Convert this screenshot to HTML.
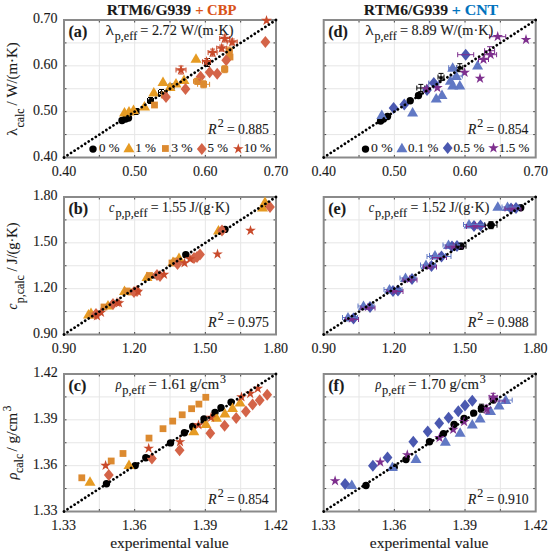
<!DOCTYPE html>
<html><head><meta charset="utf-8"><style>
html,body{margin:0;padding:0;background:#fff;}
svg{display:block;}
text{font-family:"Liberation Serif",serif;fill:#1a1a1a;font-kerning:none;stroke:#1a1a1a;stroke-width:0.12px;}
</style></head><body>
<svg width="550" height="555" viewBox="0 0 550 555">
<rect width="550" height="555" fill="#fff"/>
<line x1="99.33" y1="20.0" x2="99.33" y2="157.5" stroke="#e6e6e6" stroke-width="1"/>
<line x1="64.0" y1="42.92" x2="276.0" y2="42.92" stroke="#e6e6e6" stroke-width="1"/>
<line x1="134.67" y1="20.0" x2="134.67" y2="157.5" stroke="#e6e6e6" stroke-width="1"/>
<line x1="64.0" y1="65.83" x2="276.0" y2="65.83" stroke="#e6e6e6" stroke-width="1"/>
<line x1="170.00" y1="20.0" x2="170.00" y2="157.5" stroke="#e6e6e6" stroke-width="1"/>
<line x1="64.0" y1="88.75" x2="276.0" y2="88.75" stroke="#e6e6e6" stroke-width="1"/>
<line x1="205.33" y1="20.0" x2="205.33" y2="157.5" stroke="#e6e6e6" stroke-width="1"/>
<line x1="64.0" y1="111.67" x2="276.0" y2="111.67" stroke="#e6e6e6" stroke-width="1"/>
<line x1="240.67" y1="20.0" x2="240.67" y2="157.5" stroke="#e6e6e6" stroke-width="1"/>
<line x1="64.0" y1="134.58" x2="276.0" y2="134.58" stroke="#e6e6e6" stroke-width="1"/>
<path d="M99.33,157.5v-2.5M99.33,20.0v2.5M64.0,42.92h2.5M276.0,42.92h-2.5" stroke="#444" stroke-width="1"/>
<path d="M134.67,157.5v-2.5M134.67,20.0v2.5M64.0,65.83h2.5M276.0,65.83h-2.5" stroke="#444" stroke-width="1"/>
<path d="M170.00,157.5v-2.5M170.00,20.0v2.5M64.0,88.75h2.5M276.0,88.75h-2.5" stroke="#444" stroke-width="1"/>
<path d="M205.33,157.5v-2.5M205.33,20.0v2.5M64.0,111.67h2.5M276.0,111.67h-2.5" stroke="#444" stroke-width="1"/>
<path d="M240.67,157.5v-2.5M240.67,20.0v2.5M64.0,134.58h2.5M276.0,134.58h-2.5" stroke="#444" stroke-width="1"/>
<rect x="64.0" y="20.0" width="212.00" height="137.50" fill="none" stroke="#8a8a8a" stroke-width="2"/>
<line x1="99.33" y1="197.0" x2="99.33" y2="334.5" stroke="#e6e6e6" stroke-width="1"/>
<line x1="64.0" y1="219.92" x2="276.0" y2="219.92" stroke="#e6e6e6" stroke-width="1"/>
<line x1="134.67" y1="197.0" x2="134.67" y2="334.5" stroke="#e6e6e6" stroke-width="1"/>
<line x1="64.0" y1="242.83" x2="276.0" y2="242.83" stroke="#e6e6e6" stroke-width="1"/>
<line x1="170.00" y1="197.0" x2="170.00" y2="334.5" stroke="#e6e6e6" stroke-width="1"/>
<line x1="64.0" y1="265.75" x2="276.0" y2="265.75" stroke="#e6e6e6" stroke-width="1"/>
<line x1="205.33" y1="197.0" x2="205.33" y2="334.5" stroke="#e6e6e6" stroke-width="1"/>
<line x1="64.0" y1="288.67" x2="276.0" y2="288.67" stroke="#e6e6e6" stroke-width="1"/>
<line x1="240.67" y1="197.0" x2="240.67" y2="334.5" stroke="#e6e6e6" stroke-width="1"/>
<line x1="64.0" y1="311.58" x2="276.0" y2="311.58" stroke="#e6e6e6" stroke-width="1"/>
<path d="M99.33,334.5v-2.5M99.33,197.0v2.5M64.0,219.92h2.5M276.0,219.92h-2.5" stroke="#444" stroke-width="1"/>
<path d="M134.67,334.5v-2.5M134.67,197.0v2.5M64.0,242.83h2.5M276.0,242.83h-2.5" stroke="#444" stroke-width="1"/>
<path d="M170.00,334.5v-2.5M170.00,197.0v2.5M64.0,265.75h2.5M276.0,265.75h-2.5" stroke="#444" stroke-width="1"/>
<path d="M205.33,334.5v-2.5M205.33,197.0v2.5M64.0,288.67h2.5M276.0,288.67h-2.5" stroke="#444" stroke-width="1"/>
<path d="M240.67,334.5v-2.5M240.67,197.0v2.5M64.0,311.58h2.5M276.0,311.58h-2.5" stroke="#444" stroke-width="1"/>
<rect x="64.0" y="197.0" width="212.00" height="137.50" fill="none" stroke="#8a8a8a" stroke-width="2"/>
<line x1="99.33" y1="374.0" x2="99.33" y2="511.5" stroke="#e6e6e6" stroke-width="1"/>
<line x1="64.0" y1="396.92" x2="276.0" y2="396.92" stroke="#e6e6e6" stroke-width="1"/>
<line x1="134.67" y1="374.0" x2="134.67" y2="511.5" stroke="#e6e6e6" stroke-width="1"/>
<line x1="64.0" y1="419.83" x2="276.0" y2="419.83" stroke="#e6e6e6" stroke-width="1"/>
<line x1="170.00" y1="374.0" x2="170.00" y2="511.5" stroke="#e6e6e6" stroke-width="1"/>
<line x1="64.0" y1="442.75" x2="276.0" y2="442.75" stroke="#e6e6e6" stroke-width="1"/>
<line x1="205.33" y1="374.0" x2="205.33" y2="511.5" stroke="#e6e6e6" stroke-width="1"/>
<line x1="64.0" y1="465.67" x2="276.0" y2="465.67" stroke="#e6e6e6" stroke-width="1"/>
<line x1="240.67" y1="374.0" x2="240.67" y2="511.5" stroke="#e6e6e6" stroke-width="1"/>
<line x1="64.0" y1="488.58" x2="276.0" y2="488.58" stroke="#e6e6e6" stroke-width="1"/>
<path d="M99.33,511.5v-2.5M99.33,374.0v2.5M64.0,396.92h2.5M276.0,396.92h-2.5" stroke="#444" stroke-width="1"/>
<path d="M134.67,511.5v-2.5M134.67,374.0v2.5M64.0,419.83h2.5M276.0,419.83h-2.5" stroke="#444" stroke-width="1"/>
<path d="M170.00,511.5v-2.5M170.00,374.0v2.5M64.0,442.75h2.5M276.0,442.75h-2.5" stroke="#444" stroke-width="1"/>
<path d="M205.33,511.5v-2.5M205.33,374.0v2.5M64.0,465.67h2.5M276.0,465.67h-2.5" stroke="#444" stroke-width="1"/>
<path d="M240.67,511.5v-2.5M240.67,374.0v2.5M64.0,488.58h2.5M276.0,488.58h-2.5" stroke="#444" stroke-width="1"/>
<rect x="64.0" y="374.0" width="212.00" height="137.50" fill="none" stroke="#8a8a8a" stroke-width="2"/>
<line x1="359.03" y1="20.0" x2="359.03" y2="157.5" stroke="#e6e6e6" stroke-width="1"/>
<line x1="323.7" y1="42.92" x2="535.7" y2="42.92" stroke="#e6e6e6" stroke-width="1"/>
<line x1="394.37" y1="20.0" x2="394.37" y2="157.5" stroke="#e6e6e6" stroke-width="1"/>
<line x1="323.7" y1="65.83" x2="535.7" y2="65.83" stroke="#e6e6e6" stroke-width="1"/>
<line x1="429.70" y1="20.0" x2="429.70" y2="157.5" stroke="#e6e6e6" stroke-width="1"/>
<line x1="323.7" y1="88.75" x2="535.7" y2="88.75" stroke="#e6e6e6" stroke-width="1"/>
<line x1="465.03" y1="20.0" x2="465.03" y2="157.5" stroke="#e6e6e6" stroke-width="1"/>
<line x1="323.7" y1="111.67" x2="535.7" y2="111.67" stroke="#e6e6e6" stroke-width="1"/>
<line x1="500.37" y1="20.0" x2="500.37" y2="157.5" stroke="#e6e6e6" stroke-width="1"/>
<line x1="323.7" y1="134.58" x2="535.7" y2="134.58" stroke="#e6e6e6" stroke-width="1"/>
<path d="M359.03,157.5v-2.5M359.03,20.0v2.5M323.7,42.92h2.5M535.7,42.92h-2.5" stroke="#444" stroke-width="1"/>
<path d="M394.37,157.5v-2.5M394.37,20.0v2.5M323.7,65.83h2.5M535.7,65.83h-2.5" stroke="#444" stroke-width="1"/>
<path d="M429.70,157.5v-2.5M429.70,20.0v2.5M323.7,88.75h2.5M535.7,88.75h-2.5" stroke="#444" stroke-width="1"/>
<path d="M465.03,157.5v-2.5M465.03,20.0v2.5M323.7,111.67h2.5M535.7,111.67h-2.5" stroke="#444" stroke-width="1"/>
<path d="M500.37,157.5v-2.5M500.37,20.0v2.5M323.7,134.58h2.5M535.7,134.58h-2.5" stroke="#444" stroke-width="1"/>
<rect x="323.7" y="20.0" width="212.00" height="137.50" fill="none" stroke="#8a8a8a" stroke-width="2"/>
<line x1="359.03" y1="197.0" x2="359.03" y2="334.5" stroke="#e6e6e6" stroke-width="1"/>
<line x1="323.7" y1="219.92" x2="535.7" y2="219.92" stroke="#e6e6e6" stroke-width="1"/>
<line x1="394.37" y1="197.0" x2="394.37" y2="334.5" stroke="#e6e6e6" stroke-width="1"/>
<line x1="323.7" y1="242.83" x2="535.7" y2="242.83" stroke="#e6e6e6" stroke-width="1"/>
<line x1="429.70" y1="197.0" x2="429.70" y2="334.5" stroke="#e6e6e6" stroke-width="1"/>
<line x1="323.7" y1="265.75" x2="535.7" y2="265.75" stroke="#e6e6e6" stroke-width="1"/>
<line x1="465.03" y1="197.0" x2="465.03" y2="334.5" stroke="#e6e6e6" stroke-width="1"/>
<line x1="323.7" y1="288.67" x2="535.7" y2="288.67" stroke="#e6e6e6" stroke-width="1"/>
<line x1="500.37" y1="197.0" x2="500.37" y2="334.5" stroke="#e6e6e6" stroke-width="1"/>
<line x1="323.7" y1="311.58" x2="535.7" y2="311.58" stroke="#e6e6e6" stroke-width="1"/>
<path d="M359.03,334.5v-2.5M359.03,197.0v2.5M323.7,219.92h2.5M535.7,219.92h-2.5" stroke="#444" stroke-width="1"/>
<path d="M394.37,334.5v-2.5M394.37,197.0v2.5M323.7,242.83h2.5M535.7,242.83h-2.5" stroke="#444" stroke-width="1"/>
<path d="M429.70,334.5v-2.5M429.70,197.0v2.5M323.7,265.75h2.5M535.7,265.75h-2.5" stroke="#444" stroke-width="1"/>
<path d="M465.03,334.5v-2.5M465.03,197.0v2.5M323.7,288.67h2.5M535.7,288.67h-2.5" stroke="#444" stroke-width="1"/>
<path d="M500.37,334.5v-2.5M500.37,197.0v2.5M323.7,311.58h2.5M535.7,311.58h-2.5" stroke="#444" stroke-width="1"/>
<rect x="323.7" y="197.0" width="212.00" height="137.50" fill="none" stroke="#8a8a8a" stroke-width="2"/>
<line x1="359.03" y1="374.0" x2="359.03" y2="511.5" stroke="#e6e6e6" stroke-width="1"/>
<line x1="323.7" y1="396.92" x2="535.7" y2="396.92" stroke="#e6e6e6" stroke-width="1"/>
<line x1="394.37" y1="374.0" x2="394.37" y2="511.5" stroke="#e6e6e6" stroke-width="1"/>
<line x1="323.7" y1="419.83" x2="535.7" y2="419.83" stroke="#e6e6e6" stroke-width="1"/>
<line x1="429.70" y1="374.0" x2="429.70" y2="511.5" stroke="#e6e6e6" stroke-width="1"/>
<line x1="323.7" y1="442.75" x2="535.7" y2="442.75" stroke="#e6e6e6" stroke-width="1"/>
<line x1="465.03" y1="374.0" x2="465.03" y2="511.5" stroke="#e6e6e6" stroke-width="1"/>
<line x1="323.7" y1="465.67" x2="535.7" y2="465.67" stroke="#e6e6e6" stroke-width="1"/>
<line x1="500.37" y1="374.0" x2="500.37" y2="511.5" stroke="#e6e6e6" stroke-width="1"/>
<line x1="323.7" y1="488.58" x2="535.7" y2="488.58" stroke="#e6e6e6" stroke-width="1"/>
<path d="M359.03,511.5v-2.5M359.03,374.0v2.5M323.7,396.92h2.5M535.7,396.92h-2.5" stroke="#444" stroke-width="1"/>
<path d="M394.37,511.5v-2.5M394.37,374.0v2.5M323.7,419.83h2.5M535.7,419.83h-2.5" stroke="#444" stroke-width="1"/>
<path d="M429.70,511.5v-2.5M429.70,374.0v2.5M323.7,442.75h2.5M535.7,442.75h-2.5" stroke="#444" stroke-width="1"/>
<path d="M465.03,511.5v-2.5M465.03,374.0v2.5M323.7,465.67h2.5M535.7,465.67h-2.5" stroke="#444" stroke-width="1"/>
<path d="M500.37,511.5v-2.5M500.37,374.0v2.5M323.7,488.58h2.5M535.7,488.58h-2.5" stroke="#444" stroke-width="1"/>
<rect x="323.7" y="374.0" width="212.00" height="137.50" fill="none" stroke="#8a8a8a" stroke-width="2"/>
<path d="M147.50,100.5H153.50M147.50,98.0v5M153.50,98.0v5" stroke="#000000" stroke-width="1" fill="none"/><path d="M150.5,97.50V103.50M148.0,97.50h5M148.0,103.50h5" stroke="#000000" stroke-width="1" fill="none"/>
<path d="M158.50,92.5H164.50M158.50,90.0v5M164.50,90.0v5" stroke="#000000" stroke-width="1" fill="none"/><path d="M161.5,89.50V95.50M159.0,89.50h5M159.0,95.50h5" stroke="#000000" stroke-width="1" fill="none"/>
<path d="M168.00,87H174.00M168.00,84.5v5M174.00,84.5v5" stroke="#000000" stroke-width="1" fill="none"/><path d="M171,84.00V90.00M168.5,84.00h5M168.5,90.00h5" stroke="#000000" stroke-width="1" fill="none"/>
<path d="M204.50,62.5H210.50M204.50,60.0v5M210.50,60.0v5" stroke="#000000" stroke-width="1" fill="none"/><path d="M207.5,58.50V66.50M205.0,58.50h5M205.0,66.50h5" stroke="#000000" stroke-width="1" fill="none"/>
<path d="M133.00,111.5H139.00M133.00,109.0v5M139.00,109.0v5" stroke="#000000" stroke-width="1" fill="none"/><path d="M136,108.50V114.50M133.5,108.50h5M133.5,114.50h5" stroke="#000000" stroke-width="1" fill="none"/>
<path d="M416.80,88H424.80M416.80,85.5v5M424.80,85.5v5" stroke="#000000" stroke-width="1" fill="none"/><path d="M420.8,84.40V91.60M418.3,84.40h5M418.3,91.60h5" stroke="#000000" stroke-width="1" fill="none"/>
<path d="M438.00,77H444.00M438.00,74.5v5M444.00,74.5v5" stroke="#000000" stroke-width="1" fill="none"/><path d="M441,73.40V80.60M438.5,73.40h5M438.5,80.60h5" stroke="#000000" stroke-width="1" fill="none"/>
<path d="M456.80,67.7H462.80M456.80,65.2v5M462.80,65.2v5" stroke="#000000" stroke-width="1" fill="none"/><path d="M459.8,63.70V71.70M457.3,63.70h5M457.3,71.70h5" stroke="#000000" stroke-width="1" fill="none"/>
<circle cx="122" cy="120.5" r="3.70" fill="#000000"/>
<circle cx="125.5" cy="119" r="3.70" fill="#000000"/>
<circle cx="128.5" cy="118" r="3.70" fill="#000000"/>
<circle cx="136" cy="111.5" r="2.96" fill="#000000"/>
<circle cx="151" cy="100.5" r="2.78" fill="#000000"/>
<circle cx="161.5" cy="92.5" r="1.85" fill="#000000"/>
<circle cx="171" cy="87" r="1.85" fill="#000000"/>
<circle cx="207.5" cy="62.5" r="2.22" fill="#000000"/>
<polygon points="124.50,106.99 130.00,116.49 119.00,116.49" fill="#E69B23"/>
<polygon points="129.00,105.99 134.50,115.49 123.50,115.49" fill="#E69B23"/>
<polygon points="133.50,104.49 139.00,113.99 128.00,113.99" fill="#E69B23"/>
<polygon points="144.50,100.99 150.00,110.49 139.00,110.49" fill="#E69B23"/>
<polygon points="153.80,86.99 159.30,96.49 148.30,96.49" fill="#E69B23"/>
<polygon points="163.00,76.49 168.50,85.99 157.50,85.99" fill="#E69B23"/>
<polygon points="170.00,81.49 175.50,90.99 164.50,90.99" fill="#E69B23"/>
<polygon points="176.00,77.99 181.50,87.49 170.50,87.49" fill="#E69B23"/>
<polygon points="184.00,74.49 189.50,83.99 178.50,83.99" fill="#E69B23"/>
<polygon points="196.00,53.19 201.50,62.69 190.50,62.69" fill="#E69B23"/>
<rect x="151.10" y="101.60" width="6.80" height="6.80" fill="#DC8A30"/>
<rect x="160.90" y="91.60" width="6.80" height="6.80" fill="#DC8A30"/>
<rect x="194.10" y="77.90" width="6.80" height="6.80" fill="#DC8A30"/>
<rect x="200.20" y="80.90" width="6.80" height="6.80" fill="#DC8A30"/>
<rect x="221.30" y="65.80" width="6.80" height="6.80" fill="#DC8A30"/>
<rect x="225.80" y="47.70" width="6.80" height="6.80" fill="#DC8A30"/>
<rect x="226.60" y="53.60" width="6.80" height="6.80" fill="#DC8A30"/>
<polygon points="166.00,91.00 170.90,97.00 166.00,103.00 161.10,97.00" fill="#D46448"/>
<polygon points="185.50,82.90 190.40,88.90 185.50,94.90 180.60,88.90" fill="#D46448"/>
<polygon points="200.60,70.80 205.50,76.80 200.60,82.80 195.70,76.80" fill="#D46448"/>
<polygon points="209.60,66.30 214.50,72.30 209.60,78.30 204.70,72.30" fill="#D46448"/>
<polygon points="217.20,67.80 222.10,73.80 217.20,79.80 212.30,73.80" fill="#D46448"/>
<polygon points="226.20,54.20 231.10,60.20 226.20,66.20 221.30,60.20" fill="#D46448"/>
<polygon points="265.40,36.10 270.30,42.10 265.40,48.10 260.50,42.10" fill="#D46448"/>
<polygon points="181.00,64.40 182.26,68.27 186.33,68.27 183.03,70.66 184.29,74.53 181.00,72.14 177.71,74.53 178.97,70.66 175.67,68.27 179.74,68.27" fill="#C94A2B"/>
<polygon points="224.70,32.90 225.96,36.77 230.03,36.77 226.73,39.16 227.99,43.03 224.70,40.64 221.41,43.03 222.67,39.16 219.37,36.77 223.44,36.77" fill="#C94A2B"/>
<polygon points="232.20,36.40 233.46,40.27 237.53,40.27 234.23,42.66 235.49,46.53 232.20,44.14 228.91,46.53 230.17,42.66 226.87,40.27 230.94,40.27" fill="#C94A2B"/>
<polygon points="221.70,42.50 222.96,46.37 227.03,46.37 223.73,48.76 224.99,52.63 221.70,50.24 218.41,52.63 219.67,48.76 216.37,46.37 220.44,46.37" fill="#C94A2B"/>
<polygon points="212.60,47.00 213.86,50.87 217.93,50.87 214.63,53.26 215.89,57.13 212.60,54.74 209.31,57.13 210.57,53.26 207.27,50.87 211.34,50.87" fill="#C94A2B"/>
<polygon points="206.60,56.10 207.86,59.97 211.93,59.97 208.63,62.36 209.89,66.23 206.60,63.84 203.31,66.23 204.57,62.36 201.27,59.97 205.34,59.97" fill="#C94A2B"/>
<polygon points="266.50,14.90 267.76,18.77 271.83,18.77 268.53,21.16 269.79,25.03 266.50,22.64 263.21,25.03 264.47,21.16 261.17,18.77 265.24,18.77" fill="#C94A2B"/>
<circle cx="94" cy="315" r="2.59" fill="#000000"/>
<circle cx="130" cy="292.5" r="2.59" fill="#000000"/>
<circle cx="154" cy="276" r="2.59" fill="#000000"/>
<circle cx="185.8" cy="254.6" r="3.70" fill="#000000"/>
<circle cx="225" cy="229.4" r="3.70" fill="#000000"/>
<circle cx="267" cy="205" r="2.59" fill="#000000"/>
<polygon points="88.50,308.99 94.00,318.49 83.00,318.49" fill="#E69B23"/>
<polygon points="91.00,307.49 96.50,316.99 85.50,316.99" fill="#E69B23"/>
<polygon points="147.00,271.49 152.50,280.99 141.50,280.99" fill="#E69B23"/>
<polygon points="108.00,299.99 113.50,309.49 102.50,309.49" fill="#E69B23"/>
<polygon points="124.50,285.49 130.00,294.99 119.00,294.99" fill="#E69B23"/>
<polygon points="173.00,256.49 178.50,265.99 167.50,265.99" fill="#E69B23"/>
<polygon points="179.00,252.49 184.50,261.99 173.50,261.99" fill="#E69B23"/>
<polygon points="218.50,224.99 224.00,234.49 213.00,234.49" fill="#E69B23"/>
<polygon points="262.50,201.99 268.00,211.49 257.00,211.49" fill="#E69B23"/>
<polygon points="265.00,196.49 270.50,205.99 259.50,205.99" fill="#E69B23"/>
<rect x="146.10" y="272.10" width="6.80" height="6.80" fill="#DC8A30"/>
<rect x="172.60" y="257.60" width="6.80" height="6.80" fill="#DC8A30"/>
<rect x="127.60" y="288.60" width="6.80" height="6.80" fill="#DC8A30"/>
<rect x="88.60" y="311.60" width="6.80" height="6.80" fill="#DC8A30"/>
<rect x="100.60" y="303.60" width="6.80" height="6.80" fill="#DC8A30"/>
<rect x="123.60" y="287.60" width="6.80" height="6.80" fill="#DC8A30"/>
<rect x="168.60" y="259.60" width="6.80" height="6.80" fill="#DC8A30"/>
<polygon points="96.00,308.00 100.90,314.00 96.00,320.00 91.10,314.00" fill="#D46448"/>
<polygon points="113.00,298.00 117.90,304.00 113.00,310.00 108.10,304.00" fill="#D46448"/>
<polygon points="134.00,286.00 138.90,292.00 134.00,298.00 129.10,292.00" fill="#D46448"/>
<polygon points="137.00,285.00 141.90,291.00 137.00,297.00 132.10,291.00" fill="#D46448"/>
<polygon points="160.00,270.00 164.90,276.00 160.00,282.00 155.10,276.00" fill="#D46448"/>
<polygon points="197.00,251.00 201.90,257.00 197.00,263.00 192.10,257.00" fill="#D46448"/>
<polygon points="157.00,269.00 161.90,275.00 157.00,281.00 152.10,275.00" fill="#D46448"/>
<polygon points="177.50,258.00 182.40,264.00 177.50,270.00 172.60,264.00" fill="#D46448"/>
<polygon points="194.00,252.00 198.90,258.00 194.00,264.00 189.10,258.00" fill="#D46448"/>
<polygon points="200.00,248.50 204.90,254.50 200.00,260.50 195.10,254.50" fill="#D46448"/>
<polygon points="222.00,224.50 226.90,230.50 222.00,236.50 217.10,230.50" fill="#D46448"/>
<polygon points="270.00,201.00 274.90,207.00 270.00,213.00 265.10,207.00" fill="#D46448"/>
<polygon points="101.00,306.90 102.26,310.77 106.33,310.77 103.03,313.16 104.29,317.03 101.00,314.64 97.71,317.03 98.97,313.16 95.67,310.77 99.74,310.77" fill="#C94A2B"/>
<polygon points="97.00,310.40 98.26,314.27 102.33,314.27 99.03,316.66 100.29,320.53 97.00,318.14 93.71,320.53 94.97,316.66 91.67,314.27 95.74,314.27" fill="#C94A2B"/>
<polygon points="119.00,297.40 120.26,301.27 124.33,301.27 121.03,303.66 122.29,307.53 119.00,305.14 115.71,307.53 116.97,303.66 113.67,301.27 117.74,301.27" fill="#C94A2B"/>
<polygon points="190.00,253.40 191.26,257.27 195.33,257.27 192.03,259.66 193.29,263.53 190.00,261.14 186.71,263.53 187.97,259.66 184.67,257.27 188.74,257.27" fill="#C94A2B"/>
<polygon points="117.00,296.90 118.26,300.77 122.33,300.77 119.03,303.16 120.29,307.03 117.00,304.64 113.71,307.03 114.97,303.16 111.67,300.77 115.74,300.77" fill="#C94A2B"/>
<polygon points="138.00,285.90 139.26,289.77 143.33,289.77 140.03,292.16 141.29,296.03 138.00,293.64 134.71,296.03 135.97,292.16 132.67,289.77 136.74,289.77" fill="#C94A2B"/>
<polygon points="164.00,268.90 165.26,272.77 169.33,272.77 166.03,275.16 167.29,279.03 164.00,276.64 160.71,279.03 161.97,275.16 158.67,272.77 162.74,272.77" fill="#C94A2B"/>
<polygon points="184.50,257.40 185.76,261.27 189.83,261.27 186.53,263.66 187.79,267.53 184.50,265.14 181.21,267.53 182.47,263.66 179.17,261.27 183.24,261.27" fill="#C94A2B"/>
<polygon points="250.50,225.00 251.76,228.87 255.83,228.87 252.53,231.26 253.79,235.13 250.50,232.74 247.21,235.13 248.47,231.26 245.17,228.87 249.24,228.87" fill="#C94A2B"/>
<polygon points="217.50,248.60 218.76,252.47 222.83,252.47 219.53,254.86 220.79,258.73 217.50,256.34 214.21,258.73 215.47,254.86 212.17,252.47 216.24,252.47" fill="#C94A2B"/>
<circle cx="106.5" cy="483.7" r="3.70" fill="#000000"/>
<circle cx="135.2" cy="465.6" r="3.70" fill="#000000"/>
<circle cx="145.8" cy="457.8" r="3.70" fill="#000000"/>
<circle cx="170.5" cy="442.9" r="3.70" fill="#000000"/>
<circle cx="184.4" cy="432.7" r="3.70" fill="#000000"/>
<circle cx="192.7" cy="426.5" r="3.70" fill="#000000"/>
<circle cx="204" cy="419" r="3.70" fill="#000000"/>
<circle cx="215" cy="412.5" r="3.70" fill="#000000"/>
<circle cx="221" cy="407.7" r="3.70" fill="#000000"/>
<circle cx="231.1" cy="402.2" r="3.70" fill="#000000"/>
<polygon points="90.00,476.29 95.50,485.79 84.50,485.79" fill="#E69B23"/>
<polygon points="129.00,459.49 134.50,468.99 123.50,468.99" fill="#E69B23"/>
<polygon points="193.80,425.79 199.30,435.29 188.30,435.29" fill="#E69B23"/>
<polygon points="206.00,418.49 211.50,427.99 200.50,427.99" fill="#E69B23"/>
<polygon points="216.50,412.19 222.00,421.69 211.00,421.69" fill="#E69B23"/>
<polygon points="224.90,408.09 230.40,417.59 219.40,417.59" fill="#E69B23"/>
<polygon points="232.50,402.59 238.00,412.09 227.00,412.09" fill="#E69B23"/>
<polygon points="240.10,397.09 245.60,406.59 234.60,406.59" fill="#E69B23"/>
<rect x="78.40" y="474.40" width="6.80" height="6.80" fill="#DC8A30"/>
<rect x="107.80" y="457.60" width="6.80" height="6.80" fill="#DC8A30"/>
<rect x="119.60" y="450.10" width="6.80" height="6.80" fill="#DC8A30"/>
<rect x="145.60" y="434.70" width="6.80" height="6.80" fill="#DC8A30"/>
<rect x="159.60" y="425.30" width="6.80" height="6.80" fill="#DC8A30"/>
<rect x="169.30" y="417.70" width="6.80" height="6.80" fill="#DC8A30"/>
<rect x="178.80" y="411.40" width="6.80" height="6.80" fill="#DC8A30"/>
<rect x="188.20" y="405.30" width="6.80" height="6.80" fill="#DC8A30"/>
<rect x="195.50" y="400.70" width="6.80" height="6.80" fill="#DC8A30"/>
<rect x="202.40" y="393.90" width="6.80" height="6.80" fill="#DC8A30"/>
<polygon points="108.80,468.90 113.70,474.90 108.80,480.90 103.90,474.90" fill="#D46448"/>
<polygon points="151.90,452.50 156.80,458.50 151.90,464.50 147.00,458.50" fill="#D46448"/>
<polygon points="179.60,444.20 184.50,450.20 179.60,456.20 174.70,450.20" fill="#D46448"/>
<polygon points="210.30,427.20 215.20,433.20 210.30,439.20 205.40,433.20" fill="#D46448"/>
<polygon points="224.60,419.70 229.50,425.70 224.60,431.70 219.70,425.70" fill="#D46448"/>
<polygon points="236.20,412.10 241.10,418.10 236.20,424.10 231.30,418.10" fill="#D46448"/>
<polygon points="245.90,405.40 250.80,411.40 245.90,417.40 241.00,411.40" fill="#D46448"/>
<polygon points="252.60,398.50 257.50,404.50 252.60,410.50 247.70,404.50" fill="#D46448"/>
<polygon points="259.70,394.30 264.60,400.30 259.70,406.30 254.80,400.30" fill="#D46448"/>
<polygon points="267.20,388.80 272.10,394.80 267.20,400.80 262.30,394.80" fill="#D46448"/>
<polygon points="105.60,459.90 106.86,463.77 110.93,463.77 107.63,466.16 108.89,470.03 105.60,467.64 102.31,470.03 103.57,466.16 100.27,463.77 104.34,463.77" fill="#C94A2B"/>
<polygon points="148.70,442.80 149.96,446.67 154.03,446.67 150.73,449.06 151.99,452.93 148.70,450.54 145.41,452.93 146.67,449.06 143.37,446.67 147.44,446.67" fill="#C94A2B"/>
<polygon points="180.00,436.30 181.26,440.17 185.33,440.17 182.03,442.56 183.29,446.43 180.00,444.04 176.71,446.43 177.97,442.56 174.67,440.17 178.74,440.17" fill="#C94A2B"/>
<polygon points="198.50,419.40 199.76,423.27 203.83,423.27 200.53,425.66 201.79,429.53 198.50,427.14 195.21,429.53 196.47,425.66 193.17,423.27 197.24,423.27" fill="#C94A2B"/>
<polygon points="211.00,411.90 212.26,415.77 216.33,415.77 213.03,418.16 214.29,422.03 211.00,419.64 207.71,422.03 208.97,418.16 205.67,415.77 209.74,415.77" fill="#C94A2B"/>
<polygon points="241.50,391.40 242.76,395.27 246.83,395.27 243.53,397.66 244.79,401.53 241.50,399.14 238.21,401.53 239.47,397.66 236.17,395.27 240.24,395.27" fill="#C94A2B"/>
<polygon points="250.20,388.00 251.46,391.87 255.53,391.87 252.23,394.26 253.49,398.13 250.20,395.74 246.91,398.13 248.17,394.26 244.87,391.87 248.94,391.87" fill="#C94A2B"/>
<polygon points="257.80,382.90 259.06,386.77 263.13,386.77 259.83,389.16 261.09,393.03 257.80,390.64 254.51,393.03 255.77,389.16 252.47,386.77 256.54,386.77" fill="#C94A2B"/>
<circle cx="380.6" cy="121" r="3.70" fill="#000000"/>
<circle cx="383.5" cy="119" r="3.70" fill="#000000"/>
<circle cx="387.5" cy="116.5" r="3.70" fill="#000000"/>
<circle cx="410.2" cy="100.8" r="3.70" fill="#000000"/>
<circle cx="418.5" cy="95.5" r="3.70" fill="#000000"/>
<circle cx="459.8" cy="67.7" r="2.04" fill="#000000"/>
<circle cx="441" cy="78" r="1.85" fill="#000000"/>
<polygon points="381.80,109.49 387.30,118.99 376.30,118.99" fill="#6178C4"/>
<polygon points="412.60,107.09 418.10,116.59 407.10,116.59" fill="#6178C4"/>
<polygon points="436.20,92.99 441.70,102.49 430.70,102.49" fill="#6178C4"/>
<polygon points="442.00,89.49 447.50,98.99 436.50,98.99" fill="#6178C4"/>
<polygon points="450.40,75.19 455.90,84.69 444.90,84.69" fill="#6178C4"/>
<polygon points="452.70,79.99 458.20,89.49 447.20,89.49" fill="#6178C4"/>
<polygon points="456.30,70.49 461.80,79.99 450.80,79.99" fill="#6178C4"/>
<polygon points="459.80,79.99 465.30,89.49 454.30,89.49" fill="#6178C4"/>
<polygon points="452.70,62.19 458.20,71.69 447.20,71.69" fill="#6178C4"/>
<polygon points="477.60,59.89 483.10,69.39 472.10,69.39" fill="#6178C4"/>
<polygon points="393.60,102.00 398.50,108.00 393.60,114.00 388.70,108.00" fill="#4A58B0"/>
<polygon points="404.30,98.40 409.20,104.40 404.30,110.40 399.40,104.40" fill="#4A58B0"/>
<polygon points="433.80,77.10 438.70,83.10 433.80,89.10 428.90,83.10" fill="#4A58B0"/>
<polygon points="427.00,84.00 431.90,90.00 427.00,96.00 422.10,90.00" fill="#4A58B0"/>
<polygon points="465.70,48.70 470.60,54.70 465.70,60.70 460.80,54.70" fill="#4A58B0"/>
<polygon points="426.70,83.40 427.96,87.27 432.03,87.27 428.73,89.66 429.99,93.53 426.70,91.14 423.41,93.53 424.67,89.66 421.37,87.27 425.44,87.27" fill="#7E2F8E"/>
<polygon points="437.40,82.20 438.66,86.07 442.73,86.07 439.43,88.46 440.69,92.33 437.40,89.94 434.11,92.33 435.37,88.46 432.07,86.07 436.14,86.07" fill="#7E2F8E"/>
<polygon points="464.60,66.90 465.86,70.77 469.93,70.77 466.63,73.16 467.89,77.03 464.60,74.64 461.31,77.03 462.57,73.16 459.27,70.77 463.34,70.77" fill="#7E2F8E"/>
<polygon points="480.00,72.80 481.26,76.67 485.33,76.67 482.03,79.06 483.29,82.93 480.00,80.54 476.71,82.93 477.97,79.06 474.67,76.67 478.74,76.67" fill="#7E2F8E"/>
<polygon points="483.50,53.90 484.76,57.77 488.83,57.77 485.53,60.16 486.79,64.03 483.50,61.64 480.21,64.03 481.47,60.16 478.17,57.77 482.24,57.77" fill="#7E2F8E"/>
<polygon points="490.60,49.10 491.86,52.97 495.93,52.97 492.63,55.36 493.89,59.23 490.60,56.84 487.31,59.23 488.57,55.36 485.27,52.97 489.34,52.97" fill="#7E2F8E"/>
<polygon points="497.70,31.10 498.96,34.97 503.03,34.97 499.73,37.36 500.99,41.23 497.70,38.84 494.41,41.23 495.67,37.36 492.37,34.97 496.44,34.97" fill="#7E2F8E"/>
<polygon points="526.00,34.10 527.26,37.97 531.33,37.97 528.03,40.36 529.29,44.23 526.00,41.84 522.71,44.23 523.97,40.36 520.67,37.97 524.74,37.97" fill="#7E2F8E"/>
<circle cx="461" cy="246.2" r="3.70" fill="#000000"/>
<circle cx="491" cy="225.2" r="3.70" fill="#000000"/>
<circle cx="520.7" cy="207.8" r="3.70" fill="#000000"/>
<polygon points="348.00,311.99 353.50,321.49 342.50,321.49" fill="#6178C4"/>
<polygon points="363.50,300.49 369.00,309.99 358.00,309.99" fill="#6178C4"/>
<polygon points="389.50,283.99 395.00,293.49 384.00,293.49" fill="#6178C4"/>
<polygon points="405.50,272.49 411.00,281.99 400.00,281.99" fill="#6178C4"/>
<polygon points="426.00,259.49 431.50,268.99 420.50,268.99" fill="#6178C4"/>
<polygon points="435.00,249.99 440.50,259.49 429.50,259.49" fill="#6178C4"/>
<polygon points="448.50,239.49 454.00,248.99 443.00,248.99" fill="#6178C4"/>
<polygon points="469.00,218.99 474.50,228.49 463.50,228.49" fill="#6178C4"/>
<polygon points="507.50,201.49 513.00,210.99 502.00,210.99" fill="#6178C4"/>
<polygon points="497.80,201.19 503.30,210.69 492.30,210.69" fill="#6178C4"/>
<polygon points="353.50,312.50 358.40,318.50 353.50,324.50 348.60,318.50" fill="#4A58B0"/>
<polygon points="370.00,301.00 374.90,307.00 370.00,313.00 365.10,307.00" fill="#4A58B0"/>
<polygon points="398.00,284.50 402.90,290.50 398.00,296.50 393.10,290.50" fill="#4A58B0"/>
<polygon points="412.00,273.00 416.90,279.00 412.00,285.00 407.10,279.00" fill="#4A58B0"/>
<polygon points="431.50,260.00 436.40,266.00 431.50,272.00 426.60,266.00" fill="#4A58B0"/>
<polygon points="441.50,250.50 446.40,256.50 441.50,262.50 436.60,256.50" fill="#4A58B0"/>
<polygon points="457.00,240.00 461.90,246.00 457.00,252.00 452.10,246.00" fill="#4A58B0"/>
<polygon points="480.50,219.50 485.40,225.50 480.50,231.50 475.60,225.50" fill="#4A58B0"/>
<polygon points="516.00,202.00 520.90,208.00 516.00,214.00 511.10,208.00" fill="#4A58B0"/>
<polygon points="393.00,285.00 397.90,291.00 393.00,297.00 388.10,291.00" fill="#4A58B0"/>
<polygon points="452.00,240.50 456.90,246.50 452.00,252.50 447.10,246.50" fill="#4A58B0"/>
<polygon points="474.00,220.00 478.90,226.00 474.00,232.00 469.10,226.00" fill="#4A58B0"/>
<polygon points="511.00,202.50 515.90,208.50 511.00,214.50 506.10,208.50" fill="#4A58B0"/>
<polygon points="351.50,314.24 352.57,317.53 356.03,317.53 353.23,319.56 354.30,322.85 351.50,320.82 348.70,322.85 349.77,319.56 346.97,317.53 350.43,317.53" fill="#7E2F8E"/>
<polygon points="367.50,302.74 368.57,306.03 372.03,306.03 369.23,308.06 370.30,311.35 367.50,309.32 364.70,311.35 365.77,308.06 362.97,306.03 366.43,306.03" fill="#7E2F8E"/>
<polygon points="394.50,286.24 395.57,289.53 399.03,289.53 396.23,291.56 397.30,294.85 394.50,292.82 391.70,294.85 392.77,291.56 389.97,289.53 393.43,289.53" fill="#7E2F8E"/>
<polygon points="409.50,274.74 410.57,278.03 414.03,278.03 411.23,280.06 412.30,283.35 409.50,281.32 406.70,283.35 407.77,280.06 404.97,278.03 408.43,278.03" fill="#7E2F8E"/>
<polygon points="429.50,261.74 430.57,265.03 434.03,265.03 431.23,267.06 432.30,270.35 429.50,268.32 426.70,270.35 427.77,267.06 424.97,265.03 428.43,265.03" fill="#7E2F8E"/>
<polygon points="439.00,252.24 440.07,255.53 443.53,255.53 440.73,257.56 441.80,260.85 439.00,258.82 436.20,260.85 437.27,257.56 434.47,255.53 437.93,255.53" fill="#7E2F8E"/>
<polygon points="453.50,241.74 454.57,245.03 458.03,245.03 455.23,247.06 456.30,250.35 453.50,248.32 450.70,250.35 451.77,247.06 448.97,245.03 452.43,245.03" fill="#7E2F8E"/>
<polygon points="475.50,221.24 476.57,224.53 480.03,224.53 477.23,226.56 478.30,229.85 475.50,227.82 472.70,229.85 473.77,226.56 470.97,224.53 474.43,224.53" fill="#7E2F8E"/>
<polygon points="512.50,203.74 513.57,207.03 517.03,207.03 514.23,209.06 515.30,212.35 512.50,210.32 509.70,212.35 510.77,209.06 507.97,207.03 511.43,207.03" fill="#7E2F8E"/>
<circle cx="366" cy="485.5" r="3.70" fill="#000000"/>
<circle cx="394.2" cy="467.3" r="3.70" fill="#000000"/>
<circle cx="406" cy="459.6" r="3.70" fill="#000000"/>
<circle cx="429.5" cy="441.8" r="3.70" fill="#000000"/>
<circle cx="443.5" cy="433.6" r="3.70" fill="#000000"/>
<circle cx="454.1" cy="424.5" r="3.70" fill="#000000"/>
<circle cx="464.1" cy="418.5" r="3.70" fill="#000000"/>
<circle cx="473.7" cy="413.1" r="3.70" fill="#000000"/>
<circle cx="481.4" cy="408.2" r="3.70" fill="#000000"/>
<circle cx="493.4" cy="400.1" r="3.70" fill="#000000"/>
<polygon points="351.80,479.59 357.30,489.09 346.30,489.09" fill="#6178C4"/>
<polygon points="392.40,461.39 397.90,470.89 386.90,470.89" fill="#6178C4"/>
<polygon points="416.00,453.59 421.50,463.09 410.50,463.09" fill="#6178C4"/>
<polygon points="445.40,436.29 450.90,445.79 439.90,445.79" fill="#6178C4"/>
<polygon points="460.10,427.19 465.60,436.69 454.60,436.69" fill="#6178C4"/>
<polygon points="472.30,418.99 477.80,428.49 466.80,428.49" fill="#6178C4"/>
<polygon points="480.10,412.99 485.60,422.49 474.60,422.49" fill="#6178C4"/>
<polygon points="490.50,405.39 496.00,414.89 485.00,414.89" fill="#6178C4"/>
<polygon points="499.00,399.99 504.50,409.49 493.50,409.49" fill="#6178C4"/>
<polygon points="505.70,394.59 511.20,404.09 500.20,404.09" fill="#6178C4"/>
<polygon points="345.10,478.00 350.00,484.00 345.10,490.00 340.20,484.00" fill="#4A58B0"/>
<polygon points="372.90,459.80 377.80,465.80 372.90,471.80 368.00,465.80" fill="#4A58B0"/>
<polygon points="387.50,451.60 392.40,457.60 387.50,463.60 382.60,457.60" fill="#4A58B0"/>
<polygon points="413.30,435.80 418.20,441.80 413.30,447.80 408.40,441.80" fill="#4A58B0"/>
<polygon points="427.70,425.50 432.60,431.50 427.70,437.50 422.80,431.50" fill="#4A58B0"/>
<polygon points="439.20,417.30 444.10,423.30 439.20,429.30 434.30,423.30" fill="#4A58B0"/>
<polygon points="448.60,411.80 453.50,417.80 448.60,423.80 443.70,417.80" fill="#4A58B0"/>
<polygon points="458.30,405.30 463.20,411.30 458.30,417.30 453.40,411.30" fill="#4A58B0"/>
<polygon points="465.00,399.50 469.90,405.50 465.00,411.50 460.10,405.50" fill="#4A58B0"/>
<polygon points="472.30,394.70 477.20,400.70 472.30,406.70 467.40,400.70" fill="#4A58B0"/>
<polygon points="335.10,475.30 336.36,479.17 340.43,479.17 337.13,481.56 338.39,485.43 335.10,483.04 331.81,485.43 333.07,481.56 329.77,479.17 333.84,479.17" fill="#7E2F8E"/>
<polygon points="380.20,456.60 381.46,460.47 385.53,460.47 382.23,462.86 383.49,466.73 380.20,464.34 376.91,466.73 378.17,462.86 374.87,460.47 378.94,460.47" fill="#7E2F8E"/>
<polygon points="407.30,449.30 408.56,453.17 412.63,453.17 409.33,455.56 410.59,459.43 407.30,457.04 404.01,459.43 405.27,455.56 401.97,453.17 406.04,453.17" fill="#7E2F8E"/>
<polygon points="439.50,432.20 440.76,436.07 444.83,436.07 441.53,438.46 442.79,442.33 439.50,439.94 436.21,442.33 437.47,438.46 434.17,436.07 438.24,436.07" fill="#7E2F8E"/>
<polygon points="453.20,423.90 454.46,427.77 458.53,427.77 455.23,430.16 456.49,434.03 453.20,431.64 449.91,434.03 451.17,430.16 447.87,427.77 451.94,427.77" fill="#7E2F8E"/>
<polygon points="464.10,416.20 465.36,420.07 469.43,420.07 466.13,422.46 467.39,426.33 464.10,423.94 460.81,426.33 462.07,422.46 458.77,420.07 462.84,420.07" fill="#7E2F8E"/>
<polygon points="486.80,403.50 488.06,407.37 492.13,407.37 488.83,409.76 490.09,413.63 486.80,411.24 483.51,413.63 484.77,409.76 481.47,407.37 485.54,407.37" fill="#7E2F8E"/>
<polygon points="493.20,391.70 494.46,395.57 498.53,395.57 495.23,397.96 496.49,401.83 493.20,399.44 489.91,401.83 491.17,397.96 487.87,395.57 491.94,395.57" fill="#7E2F8E"/>
<path d="M176.00,70H186.00M176.00,67.5v5M186.00,67.5v5" stroke="#C94A2B" stroke-width="1" fill="none"/><path d="M181,66.00V74.00M178.5,66.00h5M178.5,74.00h5" stroke="#C94A2B" stroke-width="1" fill="none"/>
<path d="M219.70,38.5H229.70M219.70,36.0v5M229.70,36.0v5" stroke="#C94A2B" stroke-width="1" fill="none"/><path d="M224.7,35.00V42.00M222.2,35.00h5M222.2,42.00h5" stroke="#C94A2B" stroke-width="1" fill="none"/>
<path d="M227.20,42H237.20M227.20,39.5v5M237.20,39.5v5" stroke="#C94A2B" stroke-width="1" fill="none"/><path d="M232.2,39.00V45.00M229.7,39.00h5M229.7,45.00h5" stroke="#C94A2B" stroke-width="1" fill="none"/>
<path d="M216.70,48.1H226.70M216.70,45.6v5M226.70,45.6v5" stroke="#C94A2B" stroke-width="1" fill="none"/><path d="M221.7,45.10V51.10M219.2,45.10h5M219.2,51.10h5" stroke="#C94A2B" stroke-width="1" fill="none"/>
<path d="M208.10,52.6H217.10M208.10,50.1v5M217.10,50.1v5" stroke="#C94A2B" stroke-width="1" fill="none"/><path d="M212.6,49.10V56.10M210.1,49.10h5M210.1,56.10h5" stroke="#C94A2B" stroke-width="1" fill="none"/>
<path d="M202.60,61.7H210.60M202.60,59.2v5M210.60,59.2v5" stroke="#C94A2B" stroke-width="1" fill="none"/><path d="M206.6,58.70V64.70M204.1,58.70h5M204.1,64.70h5" stroke="#C94A2B" stroke-width="1" fill="none"/>
<path d="M197.60,84.3H209.60M197.60,81.8v5M209.60,81.8v5" stroke="#DC8A30" stroke-width="1" fill="none"/><path d="M203.6,80.80V87.80M201.1,80.80h5M201.1,87.80h5" stroke="#DC8A30" stroke-width="1" fill="none"/>
<path d="M193.50,81.3H201.50M193.50,78.8v5M201.50,78.8v5" stroke="#DC8A30" stroke-width="1" fill="none"/><path d="M197.5,78.30V84.30M195.0,78.30h5M195.0,84.30h5" stroke="#DC8A30" stroke-width="1" fill="none"/>
<path d="M226.20,51.1H232.20M226.20,48.6v5M232.20,48.6v5" stroke="#DC8A30" stroke-width="1" fill="none"/><path d="M229.2,47.10V55.10M226.7,47.10h5M226.7,55.10h5" stroke="#DC8A30" stroke-width="1" fill="none"/>
<path d="M221.70,69.2H227.70M221.70,66.7v5M227.70,66.7v5" stroke="#DC8A30" stroke-width="1" fill="none"/><path d="M224.7,65.70V72.70M222.2,65.70h5M222.2,72.70h5" stroke="#DC8A30" stroke-width="1" fill="none"/>
<path d="M457.70,54.7H473.70M457.70,52.2v5M473.70,52.2v5" stroke="#7E2F8E" stroke-width="1" fill="none"/>
<path d="M489.70,36.7H505.70M489.70,34.2v5M505.70,34.2v5" stroke="#7E2F8E" stroke-width="1" fill="none"/>
<path d="M484.60,50.7H494.60M484.60,48.2v5M494.60,48.2v5" stroke="#7E2F8E" stroke-width="1" fill="none"/><path d="M489.6,46.70V54.70M487.1,46.70h5M487.1,54.70h5" stroke="#7E2F8E" stroke-width="1" fill="none"/>
<path d="M484.60,54.7H496.60M484.60,52.2v5M496.60,52.2v5" stroke="#7E2F8E" stroke-width="1" fill="none"/>
<path d="M478.50,59.5H488.50M478.50,57.0v5M488.50,57.0v5" stroke="#7E2F8E" stroke-width="1" fill="none"/>
<path d="M450.30,76H462.30M450.30,73.5v5M462.30,73.5v5" stroke="#6178C4" stroke-width="1" fill="none"/>
<path d="M448.70,67.7H456.70M448.70,65.2v5M456.70,65.2v5" stroke="#6178C4" stroke-width="1" fill="none"/>
<path d="M428.80,83.1H438.80M428.80,80.6v5M438.80,80.6v5" stroke="#4A58B0" stroke-width="1" fill="none"/>
<path d="M499.20,400.1H512.20M499.20,397.6v5M512.20,397.6v5" stroke="#6178C4" stroke-width="1" fill="none"/>
<path d="M489.20,397.3H497.20M489.20,394.8v5M497.20,394.8v5" stroke="#7E2F8E" stroke-width="1" fill="none"/><path d="M493.2,393.30V401.30M490.7,393.30h5M490.7,401.30h5" stroke="#7E2F8E" stroke-width="1" fill="none"/>
<path d="M486.8,405.10V413.10M484.3,405.10h5M484.3,413.10h5" stroke="#7E2F8E" stroke-width="1" fill="none"/>
<path d="M481.4,404.20V412.20M478.9,404.20h5M478.9,412.20h5" stroke="#000000" stroke-width="1" fill="none"/>
<path d="M495.00,401H505.00M495.00,398.5v5M505.00,398.5v5" stroke="#7E2F8E" stroke-width="1" fill="none"/>
<path d="M342.50,317.5H357.50M342.50,315.0v5M357.50,315.0v5" stroke="#6178C4" stroke-width="1" fill="none"/>
<path d="M358.00,306H374.00M358.00,303.5v5M374.00,303.5v5" stroke="#6178C4" stroke-width="1" fill="none"/>
<path d="M384.00,289.5H402.00M384.00,287.0v5M402.00,287.0v5" stroke="#6178C4" stroke-width="1" fill="none"/>
<path d="M400.00,278H416.00M400.00,275.5v5M416.00,275.5v5" stroke="#6178C4" stroke-width="1" fill="none"/>
<path d="M420.50,265H435.50M420.50,262.5v5M435.50,262.5v5" stroke="#6178C4" stroke-width="1" fill="none"/>
<path d="M429.50,255.5H445.50M429.50,253.0v5M445.50,253.0v5" stroke="#6178C4" stroke-width="1" fill="none"/>
<path d="M443.00,245H461.00M443.00,242.5v5M461.00,242.5v5" stroke="#6178C4" stroke-width="1" fill="none"/>
<path d="M463.50,224.5H484.50M463.50,222.0v5M484.50,222.0v5" stroke="#6178C4" stroke-width="1" fill="none"/>
<path d="M502.00,207H520.00M502.00,204.5v5M520.00,204.5v5" stroke="#6178C4" stroke-width="1" fill="none"/>
<path d="M345.50,319.5H358.50M345.50,317.0v5M358.50,317.0v5" stroke="#7E2F8E" stroke-width="1" fill="none"/>
<path d="M361.00,308H375.00M361.00,305.5v5M375.00,305.5v5" stroke="#7E2F8E" stroke-width="1" fill="none"/>
<path d="M387.00,291.5H403.00M387.00,289.0v5M403.00,289.0v5" stroke="#7E2F8E" stroke-width="1" fill="none"/>
<path d="M403.00,280H417.00M403.00,277.5v5M417.00,277.5v5" stroke="#7E2F8E" stroke-width="1" fill="none"/>
<path d="M423.50,267H436.50M423.50,264.5v5M436.50,264.5v5" stroke="#7E2F8E" stroke-width="1" fill="none"/>
<path d="M432.50,257.5H446.50M432.50,255.0v5M446.50,255.0v5" stroke="#7E2F8E" stroke-width="1" fill="none"/>
<path d="M446.00,247H462.00M446.00,244.5v5M462.00,244.5v5" stroke="#7E2F8E" stroke-width="1" fill="none"/>
<path d="M466.50,226.5H485.50M466.50,224.0v5M485.50,224.0v5" stroke="#7E2F8E" stroke-width="1" fill="none"/>
<path d="M505.00,209H521.00M505.00,206.5v5M521.00,206.5v5" stroke="#7E2F8E" stroke-width="1" fill="none"/>
<path d="M485.00,225.2H497.00M485.00,222.7v5M497.00,222.7v5" stroke="#000000" stroke-width="1" fill="none"/><path d="M491,221.70V228.70M488.5,221.70h5M488.5,228.70h5" stroke="#000000" stroke-width="1" fill="none"/>
<path d="M456.00,246.2H466.00M456.00,243.7v5M466.00,243.7v5" stroke="#000000" stroke-width="1" fill="none"/><path d="M461,243.20V249.20M458.5,243.20h5M458.5,249.20h5" stroke="#000000" stroke-width="1" fill="none"/>
<path d="M427.00,256.5H451.00M427.00,254.0v5M451.00,254.0v5" stroke="#6178C4" stroke-width="1" fill="none"/>
<line x1="64.0" y1="157.5" x2="276.0" y2="20.0" stroke="#000" stroke-width="2.75" stroke-dasharray="0.001 4.2104" stroke-linecap="round"/>
<line x1="64.0" y1="334.5" x2="276.0" y2="197.0" stroke="#000" stroke-width="2.75" stroke-dasharray="0.001 4.2104" stroke-linecap="round"/>
<line x1="64.0" y1="511.5" x2="276.0" y2="374.0" stroke="#000" stroke-width="2.75" stroke-dasharray="0.001 4.2104" stroke-linecap="round"/>
<line x1="323.7" y1="157.5" x2="535.7" y2="20.0" stroke="#000" stroke-width="2.75" stroke-dasharray="0.001 4.2104" stroke-linecap="round"/>
<line x1="323.7" y1="334.5" x2="535.7" y2="197.0" stroke="#000" stroke-width="2.75" stroke-dasharray="0.001 4.2104" stroke-linecap="round"/>
<line x1="323.7" y1="511.5" x2="535.7" y2="374.0" stroke="#000" stroke-width="2.75" stroke-dasharray="0.001 4.2104" stroke-linecap="round"/>
<text transform="translate(32.92,160.70) scale(0.9700,1)" font-size="14.5">0.40</text>
<text transform="translate(51.69,176.40) scale(0.9700,1)" font-size="14.5">0.40</text>
<text transform="translate(32.92,114.87) scale(0.9700,1)" font-size="14.5">0.50</text>
<text transform="translate(122.36,176.40) scale(0.9700,1)" font-size="14.5">0.50</text>
<text transform="translate(32.92,69.03) scale(0.9700,1)" font-size="14.5">0.60</text>
<text transform="translate(193.03,176.40) scale(0.9700,1)" font-size="14.5">0.60</text>
<text transform="translate(32.92,23.20) scale(0.9700,1)" font-size="14.5">0.70</text>
<text transform="translate(263.69,176.40) scale(0.9700,1)" font-size="14.5">0.70</text>
<text transform="translate(32.92,337.70) scale(0.9700,1)" font-size="14.5">0.90</text>
<text transform="translate(51.69,353.40) scale(0.9700,1)" font-size="14.5">0.90</text>
<text transform="translate(32.92,291.87) scale(0.9700,1)" font-size="14.5">1.20</text>
<text transform="translate(122.01,353.40) scale(0.9700,1)" font-size="14.5">1.20</text>
<text transform="translate(32.92,246.03) scale(0.9700,1)" font-size="14.5">1.50</text>
<text transform="translate(192.68,353.40) scale(0.9700,1)" font-size="14.5">1.50</text>
<text transform="translate(32.92,200.20) scale(0.9700,1)" font-size="14.5">1.80</text>
<text transform="translate(263.34,353.40) scale(0.9700,1)" font-size="14.5">1.80</text>
<text transform="translate(32.94,514.70) scale(0.9700,1)" font-size="14.5">1.33</text>
<text transform="translate(51.35,530.40) scale(0.9700,1)" font-size="14.5">1.33</text>
<text transform="translate(32.81,468.87) scale(0.9700,1)" font-size="14.5">1.36</text>
<text transform="translate(121.95,530.40) scale(0.9700,1)" font-size="14.5">1.36</text>
<text transform="translate(32.96,423.03) scale(0.9700,1)" font-size="14.5">1.39</text>
<text transform="translate(192.70,530.40) scale(0.9700,1)" font-size="14.5">1.39</text>
<text transform="translate(33.16,377.20) scale(0.9700,1)" font-size="14.5">1.42</text>
<text transform="translate(263.46,530.40) scale(0.9700,1)" font-size="14.5">1.42</text>
<text transform="translate(311.39,176.40) scale(0.9700,1)" font-size="14.5">0.40</text>
<text transform="translate(382.06,176.40) scale(0.9700,1)" font-size="14.5">0.50</text>
<text transform="translate(452.73,176.40) scale(0.9700,1)" font-size="14.5">0.60</text>
<text transform="translate(523.39,176.40) scale(0.9700,1)" font-size="14.5">0.70</text>
<text transform="translate(311.39,353.40) scale(0.9700,1)" font-size="14.5">0.90</text>
<text transform="translate(381.71,353.40) scale(0.9700,1)" font-size="14.5">1.20</text>
<text transform="translate(452.38,353.40) scale(0.9700,1)" font-size="14.5">1.50</text>
<text transform="translate(523.04,353.40) scale(0.9700,1)" font-size="14.5">1.80</text>
<text transform="translate(311.05,530.40) scale(0.9700,1)" font-size="14.5">1.33</text>
<text transform="translate(381.65,530.40) scale(0.9700,1)" font-size="14.5">1.36</text>
<text transform="translate(452.40,530.40) scale(0.9700,1)" font-size="14.5">1.39</text>
<text transform="translate(523.16,530.40) scale(0.9700,1)" font-size="14.5">1.42</text>
<text transform="translate(106.83,15.20) scale(1.0085,1)" font-size="15.5" font-weight="bold">RTM6/G939</text>
<text transform="translate(195.13,15.20) scale(0.9446,1)" font-size="15.5" font-weight="bold" style="fill:#D95319;stroke:#D95319">+ CBP</text>
<text transform="translate(363.63,15.20) scale(1.0109,1)" font-size="15.5" font-weight="bold">RTM6/G939</text>
<text transform="translate(451.66,15.20) scale(1.0252,1)" font-size="15.5" font-weight="bold" style="fill:#0072BD;stroke:#0072BD">+ CNT</text>
<text transform="translate(68.49,36.60) scale(0.9800,1)" font-size="16.5" font-weight="bold">(a)</text>
<text transform="translate(68.49,213.60) scale(0.9800,1)" font-size="16.5" font-weight="bold">(b)</text>
<text transform="translate(68.49,390.60) scale(0.9800,1)" font-size="16.5" font-weight="bold">(c)</text>
<text transform="translate(328.19,36.60) scale(0.9800,1)" font-size="16.5" font-weight="bold">(d)</text>
<text transform="translate(328.19,213.60) scale(0.9800,1)" font-size="16.5" font-weight="bold">(e)</text>
<text transform="translate(328.19,390.60) scale(0.9800,1)" font-size="16.5" font-weight="bold">(f)</text>
<text transform="translate(105.53,35.20) scale(1.2176,1)" font-size="14.5">λ</text>
<text transform="translate(114.81,40.20)" font-size="12.0">p,eff</text>
<text transform="translate(140.29,35.20) scale(1.0203,1)" font-size="14.0">= 2.72 W/(m·K)</text>
<text transform="translate(365.23,35.20) scale(1.2176,1)" font-size="14.5">λ</text>
<text transform="translate(374.51,40.20)" font-size="12.0">p,eff</text>
<text transform="translate(399.99,35.20) scale(1.0203,1)" font-size="14.0">= 8.89 W/(m·K)</text>
<text transform="translate(109.03,211.80) scale(0.8699,1)" font-size="14.0" font-style="italic">c</text>
<text transform="translate(115.40,216.80) scale(1.0249,1)" font-size="12.0">p,p,eff</text>
<text transform="translate(150.71,211.80) scale(0.9883,1)" font-size="14.0">= 1.55 J/(g·K)</text>
<text transform="translate(368.73,211.80) scale(0.8699,1)" font-size="14.0" font-style="italic">c</text>
<text transform="translate(375.10,216.80) scale(1.0249,1)" font-size="12.0">p,p,eff</text>
<text transform="translate(410.41,211.80) scale(0.9883,1)" font-size="14.0">= 1.52 J/(g·K)</text>
<text transform="translate(115.81,388.70) scale(0.8720,1)" font-size="14.0" font-style="italic">ρ</text>
<text transform="translate(122.30,393.70) scale(1.0350,1)" font-size="12.0">p,eff</text>
<text transform="translate(148.57,388.70) scale(1.0486,1)" font-size="14.0">= 1.61 g/cm</text>
<text transform="translate(219.93,383.20)" font-size="12.0">3</text>
<text transform="translate(375.51,388.70) scale(0.8720,1)" font-size="14.0" font-style="italic">ρ</text>
<text transform="translate(382.00,393.70) scale(1.0350,1)" font-size="12.0">p,eff</text>
<text transform="translate(408.27,388.70) scale(1.0486,1)" font-size="14.0">= 1.70 g/cm</text>
<text transform="translate(479.63,383.20)" font-size="12.0">3</text>
<text transform="translate(208.08,133.50)" font-size="14.0" font-style="italic">R</text>
<text transform="translate(217.67,127.00)" font-size="12.0">2</text>
<text transform="translate(226.92,133.50) scale(0.9796,1)" font-size="14.0">= 0.885</text>
<text transform="translate(208.08,326.50)" font-size="14.0" font-style="italic">R</text>
<text transform="translate(217.67,320.00)" font-size="12.0">2</text>
<text transform="translate(226.92,326.50) scale(0.9796,1)" font-size="14.0">= 0.975</text>
<text transform="translate(208.08,503.50)" font-size="14.0" font-style="italic">R</text>
<text transform="translate(217.67,497.00)" font-size="12.0">2</text>
<text transform="translate(226.92,503.50) scale(0.9719,1)" font-size="14.0">= 0.854</text>
<text transform="translate(467.78,133.50)" font-size="14.0" font-style="italic">R</text>
<text transform="translate(477.37,127.00)" font-size="12.0">2</text>
<text transform="translate(486.62,133.50) scale(0.9719,1)" font-size="14.0">= 0.854</text>
<text transform="translate(467.78,326.50)" font-size="14.0" font-style="italic">R</text>
<text transform="translate(477.37,320.00)" font-size="12.0">2</text>
<text transform="translate(486.62,326.50) scale(0.9792,1)" font-size="14.0">= 0.988</text>
<text transform="translate(467.78,503.50)" font-size="14.0" font-style="italic">R</text>
<text transform="translate(477.37,497.00)" font-size="12.0">2</text>
<text transform="translate(486.62,503.50) scale(0.9792,1)" font-size="14.0">= 0.910</text>
<text transform="translate(17.00,135.71) rotate(-90) scale(1.0654,1)" font-size="14.5">λ</text>
<text transform="translate(23.50,127.45) rotate(-90) scale(1.0160,1)" font-size="11.5">calc</text>
<text transform="translate(17.20,105.40) rotate(-90) scale(1.0601,1)" font-size="14.0">/ W/(m·K)</text>
<text transform="translate(17.00,309.61) rotate(-90) scale(0.9409,1)" font-size="14.0" font-style="italic">c</text>
<text transform="translate(23.50,303.19) rotate(-90) scale(1.0341,1)" font-size="11.5">p,calc</text>
<text transform="translate(17.20,271.50) rotate(-90) scale(1.0231,1)" font-size="14.0">/ J/(g·K)</text>
<text transform="translate(17.00,479.43) rotate(-90) scale(1.0374,1)" font-size="14.0" font-style="italic">ρ</text>
<text transform="translate(23.40,472.95) rotate(-90) scale(1.0330,1)" font-size="11.5">calc</text>
<text transform="translate(17.20,451.50) rotate(-90) scale(1.0949,1)" font-size="14.0">/ g/cm</text>
<text transform="translate(10.70,411.23) rotate(-90) scale(0.9683,1)" font-size="11.5">3</text>
<text transform="translate(110.14,547.80) scale(1.1260,1)" font-size="13.8">experimental value</text>
<text transform="translate(369.84,547.80) scale(1.1260,1)" font-size="13.8">experimental value</text>
<circle cx="93" cy="149.1" r="3.70" fill="#000000"/>
<text transform="translate(99.01,151.80) scale(0.9980,1)" font-size="13.0">0 %</text>
<polygon points="128.90,142.79 134.40,152.29 123.40,152.29" fill="#E69B23"/>
<text transform="translate(135.14,151.80) scale(1.0109,1)" font-size="13.0">1 %</text>
<rect x="162.00" y="145.10" width="6.80" height="6.80" fill="#DC8A30"/>
<text transform="translate(171.15,151.80) scale(1.0455,1)" font-size="13.0">3 %</text>
<polygon points="201.80,142.90 206.70,148.90 201.80,154.90 196.90,148.90" fill="#D46448"/>
<text transform="translate(207.55,151.80) scale(0.9959,1)" font-size="13.0">5 %</text>
<polygon points="238.30,143.30 239.56,147.17 243.63,147.17 240.33,149.56 241.59,153.43 238.30,151.04 235.01,153.43 236.27,149.56 232.97,147.17 237.04,147.17" fill="#C94A2B"/>
<text transform="translate(243.65,151.80) scale(1.0082,1)" font-size="13.0">10 %</text>
<circle cx="365.5" cy="149.1" r="3.70" fill="#000000"/>
<text transform="translate(370.98,151.80) scale(1.0540,1)" font-size="13.0">0 %</text>
<polygon points="401.90,142.79 407.40,152.29 396.40,152.29" fill="#6178C4"/>
<text transform="translate(408.10,151.80)" font-size="13.0">0.1 %</text>
<polygon points="447.70,141.90 452.60,147.90 447.70,153.90 442.80,147.90" fill="#4A58B0"/>
<text transform="translate(453.49,151.80) scale(1.0208,1)" font-size="13.0">0.5 %</text>
<polygon points="493.50,142.40 494.76,146.27 498.83,146.27 495.53,148.66 496.79,152.53 493.50,150.14 490.21,152.53 491.47,148.66 488.17,146.27 492.24,146.27" fill="#7E2F8E"/>
<text transform="translate(498.85,151.80) scale(1.0090,1)" font-size="13.0">1.5 %</text>
</svg></body></html>
